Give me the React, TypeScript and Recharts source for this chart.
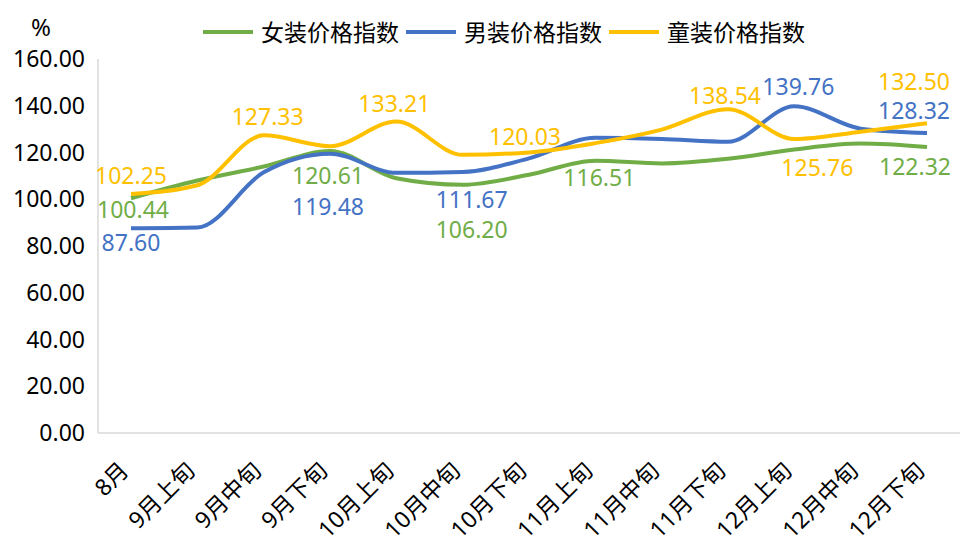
import { LineChart, Line, XAxis, YAxis } from "recharts";

const categories = ["8月", "9月上旬", "9月中旬", "9月下旬", "10月上旬", "10月中旬", "10月下旬", "11月上旬", "11月中旬", "11月下旬", "12月上旬", "12月中旬", "12月下旬"];
const womenIndex = [100.44, 108.0, 114.0, 120.61, 109.0, 106.2, 110.5, 116.51, 115.3, 117.3, 121.3, 123.8, 122.32];
const menIndex = [87.6, 87.9, 111.5, 119.48, 111.3, 111.67, 117.5, 126.3, 125.8, 124.6, 139.76, 130.2, 128.32];
const kidsIndex = [102.25, 106.0, 127.33, 122.7, 133.21, 119.0, 120.03, 124.0, 129.8, 138.54, 125.76, 128.9, 132.5];
const yTicks = [0, 20, 40, 60, 80, 100, 120, 140, 160];

const FONT = '"Noto Sans", "Noto Sans CJK SC", sans-serif';
const GREEN = "#70AD47";
const BLUE = "#4472C4";
const GOLD = "#FFC000";

const data = categories.map((name, i) => ({
  name,
  women: womenIndex[i],
  men: menIndex[i],
  kids: kidsIndex[i],
}));

// which points carry a value label, and where it sits relative to the point [dx, dy]
const labelSpots: Record<string, Record<number, [number, number]>> = {
  women: { 0: [2, 11], 3: [-2, 25], 5: [9, 45], 7: [4, 17], 12: [-12, 20] },
  men: { 0: [0, 14], 3: [-2, 53], 5: [9, 28], 10: [4, -20], 12: [-13, -22] },
  kids: { 0: [0, -18], 2: [4, -19], 4: [-2, -18], 6: [-4, -16], 9: [-3, -13], 10: [23, 29], 12: [-13, -42] },
};

const makeLabel = (key: string, color: string) => (props: any) => {
  const { x, y, value, index } = props;
  const spot = labelSpots[key][index];
  if (!spot) return null;
  return (
    <text key={`${key}-${index}`} x={x + spot[0]} y={y + spot[1]} dy="0.36em" textAnchor="middle" fill={color} fontSize={23} fontFamily={FONT}>
      {Number(value).toFixed(2)}
    </text>
  );
};

const XTick = (props: any) => {
  const { x, y, payload } = props;
  return (
    <g transform={`translate(${x - 1},${y + 31}) rotate(-45)`}>
      <text x={0} y={0} textAnchor="end" fill="#000" fontSize={23} fontFamily={FONT}>
        {payload.value}
      </text>
    </g>
  );
};

const legendItems = [
  { name: "女装价格指数", color: GREEN },
  { name: "男装价格指数", color: BLUE },
  { name: "童装价格指数", color: GOLD },
];

export default function App() {
  return (
    <div style={{ position: "absolute", left: 0, top: 0, width: 969, height: 545, background: "#fff", fontFamily: FONT }}>
      <div style={{ position: "absolute", left: 31, top: 10, fontSize: 24, color: "#000" }}>%</div>
      <div style={{ position: "absolute", left: 203, top: 17, display: "flex", alignItems: "center", fontSize: 23, color: "#000", lineHeight: "30px" }}>
        {legendItems.map((it) => (
          <div key={it.name} style={{ display: "flex", alignItems: "center", marginRight: 7 }}>
            <span style={{ display: "inline-block", width: 50, height: 4, background: it.color, marginRight: 8 }} />
            <span>{it.name}</span>
          </div>
        ))}
      </div>
      <LineChart width={969} height={545} data={data} margin={{ top: 59, right: 9, left: 0, bottom: 0 }}>
        <XAxis
          dataKey="name"
          interval={0}
          padding={{ left: 33, right: 33 }}
          height={112}
          tickLine={false}
          axisLine={{ stroke: "#d9d9d9", strokeWidth: 1.5 }}
          tick={<XTick />}
        />
        <YAxis
          width={98}
          domain={[0, 160]}
          ticks={yTicks}
          tickFormatter={(v: number) => v.toFixed(2)}
          tickLine={false}
          tickMargin={7}
          axisLine={{ stroke: "#d9d9d9", strokeWidth: 1.5 }}
          tick={{ fill: "#000", fontSize: 23, fontFamily: FONT }}
        />
        <Line type="monotone" dataKey="women" stroke={GREEN} strokeWidth={4} dot={false} isAnimationActive={false} label={makeLabel("women", GREEN)} />
        <Line type="monotone" dataKey="men" stroke={BLUE} strokeWidth={4} dot={false} isAnimationActive={false} label={makeLabel("men", BLUE)} />
        <Line type="monotone" dataKey="kids" stroke={GOLD} strokeWidth={4} dot={false} isAnimationActive={false} label={makeLabel("kids", GOLD)} />
      </LineChart>
    </div>
  );
}
